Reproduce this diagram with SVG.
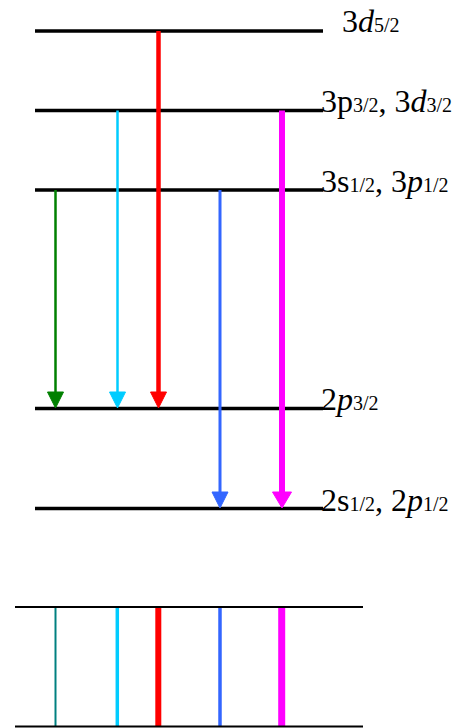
<svg xmlns="http://www.w3.org/2000/svg" width="466" height="728" viewBox="0 0 466 728">
<style>
.lvl{stroke:#000;stroke-width:3.5;fill:none}
.spec{stroke:#000;stroke-width:2;fill:none}
.lbl{font-family:"Liberation Serif","Times New Roman",serif;font-size:32px;fill:#000}
.sub{font-size:20px;font-style:normal}
.it{font-style:italic}
.green{stroke:#008000;fill:#008000}
.cyan{stroke:#00CCFF;fill:#00CCFF}
.red{stroke:#FF0000;fill:#FF0000}
.blue{stroke:#3366FF;fill:#3366FF}
.magenta{stroke:#FF00FF;fill:#FF00FF}
.teal{stroke:#008080;fill:#008080}
polygon{stroke:none}
</style>
<rect width="466" height="728" fill="#fff"/>
<g id="level-3d52">
<line class="lvl" x1="35" y1="31" x2="323" y2="31"/>
<text class="lbl" x="342" y="32">3<tspan class="it">d</tspan><tspan class="sub">5/2</tspan></text>
</g>
<g id="level-3p32">
<line class="lvl" x1="35" y1="110.5" x2="323" y2="110.5"/>
<text class="lbl" x="321" y="112">3p<tspan class="sub">3/2</tspan>, 3<tspan class="it">d</tspan><tspan class="sub">3/2</tspan></text>
</g>
<g id="level-3s12">
<line class="lvl" x1="35" y1="190" x2="323" y2="190"/>
<text class="lbl" x="321" y="192">3s<tspan class="sub">1/2</tspan>, 3<tspan class="it">p</tspan><tspan class="sub">1/2</tspan></text>
</g>
<g id="level-2p32">
<line class="lvl" x1="35" y1="408.5" x2="323" y2="408.5"/>
<text class="lbl" x="321" y="410">2<tspan class="it">p</tspan><tspan class="sub">3/2</tspan></text>
</g>
<g id="level-2s12">
<line class="lvl" x1="35" y1="508.5" x2="323" y2="508.5"/>
<text class="lbl" x="321" y="511">2s<tspan class="sub">1/2</tspan>, 2<tspan class="it">p</tspan><tspan class="sub">1/2</tspan></text>
</g>
<g id="connectors">
<line class="green" x1="55.5" y1="190" x2="55.5" y2="394" stroke-width="2.5"/>
<polygon class="green" points="47.5,392 63.5,392 55.5,408"/>
<line class="cyan" x1="117.5" y1="110.5" x2="117.5" y2="394" stroke-width="2.5"/>
<polygon class="cyan" points="109.5,392 125.5,392 117.5,408"/>
<line class="red" x1="158.5" y1="31" x2="158.5" y2="394" stroke-width="4.5"/>
<polygon class="red" points="150.5,392 166.5,392 158.5,408"/>
<line class="blue" x1="220" y1="190" x2="220" y2="494" stroke-width="3"/>
<polygon class="blue" points="212,492 228,492 220,508"/>
<line class="magenta" x1="282" y1="110.5" x2="282" y2="494" stroke-width="6"/>
<polygon class="magenta" points="272.5,492 291.5,492 282,508"/>
</g>
<g id="spectrum">
<line class="teal" x1="55.5" y1="607" x2="55.5" y2="726" stroke-width="2"/>
<line class="cyan" x1="117.3" y1="607" x2="117.3" y2="726" stroke-width="3.5"/>
<line class="red" x1="158.3" y1="607" x2="158.3" y2="726" stroke-width="6"/>
<line class="blue" x1="220" y1="607" x2="220" y2="726" stroke-width="3.5"/>
<line class="magenta" x1="281.7" y1="607" x2="281.7" y2="726" stroke-width="7"/>
<line class="spec" x1="15" y1="607" x2="363" y2="607"/>
<line class="spec" x1="15" y1="726.5" x2="363" y2="726.5"/>
</g>
</svg>
